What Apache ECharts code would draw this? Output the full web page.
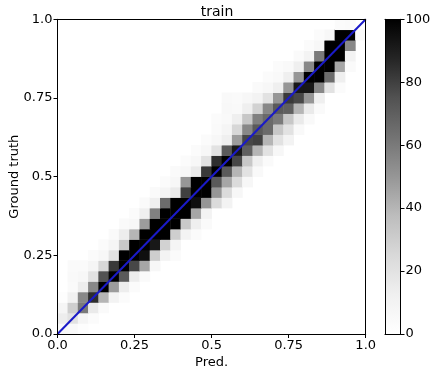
<!DOCTYPE html>
<html>
<head>
<meta charset="utf-8">
<script src="https://cdn.jsdelivr.net/npm/echarts@6/dist/echarts.min.js"></script>
<style>
html,body{margin:0;padding:0;background:#fff;}
#chart{width:434px;height:374px;}
</style>
</head>
<body>
<div id="chart"></div>
<script>
// 30x30 2D histogram counts, rows = ground-truth bins (bottom to top), columns = prediction bins (left to right)
const nBins = 30;
const counts = [
/* j0  */ [6,5,2,0,0,0,0,0,0,0,0,0,0,0,0,0,0,0,0,0,0,0,0,0,0,0,0,0,0,0],
/* j1  */ [14,20,8,3,0,0,0,0,0,0,0,0,0,0,0,0,0,0,0,0,0,0,0,0,0,0,0,0,0,0],
/* j2  */ [8,30,60,16,4,0,0,0,0,0,0,0,0,0,0,0,0,0,0,0,0,0,0,0,0,0,0,0,0,0],
/* j3  */ [2,12,55,85,40,10,3,0,0,0,0,0,0,0,0,0,0,0,0,0,0,0,0,0,0,0,0,0,0,0],
/* j4  */ [0,4,14,55,100,48,14,3,0,0,0,0,0,0,0,0,0,0,0,0,0,0,0,0,0,0,0,0,0,0],
/* j5  */ [0,5,7,20,75,100,72,14,4,0,0,0,0,0,0,0,0,0,0,0,0,0,0,0,0,0,0,0,0,0],
/* j6  */ [0,4,4,8,26,82,100,78,45,7,0,0,0,0,0,0,0,0,0,0,0,0,0,0,0,0,0,0,0,0],
/* j7  */ [0,0,0,3,7,20,100,100,95,30,10,3,0,0,0,0,0,0,0,0,0,0,0,0,0,0,0,0,0,0],
/* j8  */ [0,0,0,0,3,8,32,100,100,92,28,8,0,0,0,0,0,0,0,0,0,0,0,0,0,0,0,0,0,0],
/* j9  */ [0,0,0,0,0,4,14,40,100,100,100,30,10,3,0,0,0,0,0,0,0,0,0,0,0,0,0,0,0,0],
/* j10 */ [0,0,0,0,0,0,4,7,48,100,100,100,32,13,4,0,0,0,0,0,0,0,0,0,0,0,0,0,0,0],
/* j11 */ [0,0,0,0,0,0,0,3,13,58,100,100,100,45,10,0,0,0,0,0,0,0,0,0,0,0,0,0,0,0],
/* j12 */ [0,0,0,0,0,0,0,0,4,13,65,100,100,95,50,24,10,0,0,0,0,0,0,0,0,0,0,0,0,0],
/* j13 */ [0,0,0,0,0,0,0,0,0,4,8,16,80,100,100,50,24,7,0,0,0,0,0,0,0,0,0,0,0,0],
/* j14 */ [0,0,0,0,0,0,0,0,0,0,3,7,50,100,100,72,45,24,7,0,0,0,0,0,0,0,0,0,0,0],
/* j15 */ [0,0,0,0,0,0,0,0,0,0,0,4,7,16,82,100,72,40,20,5,0,0,0,0,0,0,0,0,0,0],
/* j16 */ [0,0,0,0,0,0,0,0,0,0,0,0,3,7,20,85,100,78,33,13,4,0,0,0,0,0,0,0,0,0],
/* j17 */ [0,0,0,0,0,0,0,0,0,0,0,0,0,3,7,20,72,92,70,40,20,7,0,0,0,0,0,0,0,0],
/* j18 */ [0,0,0,0,0,0,0,0,0,0,0,0,0,0,3,7,13,48,78,80,40,20,10,0,0,0,0,0,0,0],
/* j19 */ [0,0,0,0,0,0,0,0,0,0,0,0,0,0,0,4,8,26,55,72,66,33,20,5,0,0,0,0,0,0],
/* j20 */ [0,0,0,0,0,0,0,0,0,0,0,0,0,0,0,3,5,13,33,58,66,60,33,16,5,0,0,0,0,0],
/* j21 */ [0,0,0,0,0,0,0,0,0,0,0,0,0,0,0,0,6,5,13,28,55,72,70,40,16,4,0,0,0,0],
/* j22 */ [0,0,0,0,0,0,0,0,0,0,0,0,0,0,0,0,5,4,7,10,20,50,82,78,50,13,0,0,0,0],
/* j23 */ [0,0,0,0,0,0,0,0,0,0,0,0,0,0,0,0,0,0,0,4,7,13,50,92,92,55,20,3,0,0],
/* j24 */ [0,0,0,0,0,0,0,0,0,0,0,0,0,0,0,0,0,0,0,0,3,5,13,50,100,100,65,13,0,0],
/* j25 */ [0,0,0,0,0,0,0,0,0,0,0,0,0,0,0,0,0,0,0,0,0,3,5,13,55,100,100,45,4,0],
/* j26 */ [0,0,0,0,0,0,0,0,0,0,0,0,0,0,0,0,0,0,0,0,0,0,0,4,10,60,100,100,10,0],
/* j27 */ [0,0,0,0,0,0,0,0,0,0,0,0,0,0,0,0,0,0,0,0,0,0,0,0,3,7,100,100,55,0],
/* j28 */ [0,0,0,0,0,0,0,0,0,0,0,0,0,0,0,0,0,0,0,0,0,0,0,0,0,3,7,100,100,5],
/* j29 */ [0,0,0,0,0,0,0,0,0,0,0,0,0,0,0,0,0,0,0,0,0,0,0,0,0,0,0,3,4,0]
];
const axisTicks = [0, 0.25, 0.5, 0.75, 1.0];
const axisTickLabels = ['0.0', '0.25', '0.5', '0.75', '1.0'];
const colorbarTicks = [0, 20, 40, 60, 80, 100];
const identityLine = [[0, 0], [1, 1]];
const greys = ['#ffffff','#f0f0f0','#d9d9d9','#bdbdbd','#969696','#737373','#525252','#252525','#000000'];

const binLabels = [];
for (let i = 0; i < nBins; i++) binLabels.push(String(i));
const heatData = [];
for (let j = 0; j < nBins; j++) {
  for (let i = 0; i < nBins; i++) {
    const v = counts[j][i];
    if (v > 0) heatData.push([i, j, v]);
  }
}

const FONT = 'DejaVu Sans';
const labelFmt = v => {
  const k = axisTicks.indexOf(Math.round(v * 100) / 100);
  return k >= 0 ? axisTickLabels[k] : '';
};
const lineOnly = (extra) => Object.assign({
  axisLine: {show: true, onZero: false, lineStyle: {color: '#000', width: 1}},
  axisTick: {show: false}, axisLabel: {show: false}, splitLine: {show: false}, z: 10
}, extra);

const chart = echarts.init(document.getElementById('chart'), null, {renderer: 'canvas'});

chart.setOption({
  animation: false,
  backgroundColor: '#fff',
  title: {text: 'train', left: 212, top: 0, textAlign: 'center',
    textStyle: {fontFamily: FONT, fontSize: 14, fontWeight: 'normal', color: '#000'}},
  grid: [
    {left: 57.5, top: 19.3, width: 308.2, height: 314.7, containLabel: false, outerBoundsMode: 'none'},
    {left: 385, top: 19.3, width: 15.5, height: 314.7, containLabel: false, outerBoundsMode: 'none'}
  ],
  visualMap: {show: false, type: 'continuous', min: 0, max: 100, seriesIndex: 0, dimension: 2,
    inRange: {color: greys}},
  xAxis: [
    {type: 'value', gridIndex: 0, position: 'bottom', min: 0, max: 1, interval: 0.25, z: 10,
      name: 'Pred.', nameLocation: 'middle', nameGap: 22, nameMoveOverlap: false,
      nameTextStyle: {fontFamily: FONT, fontSize: 13, color: '#000', verticalAlign: 'top'},
      axisLine: {show: true, onZero: false, lineStyle: {color: '#000', width: 1}},
      axisTick: {show: true, inside: false, length: 4, lineStyle: {color: '#000'}},
      axisLabel: {fontFamily: FONT, fontSize: 13, color: '#000', margin: 5, formatter: labelFmt},
      splitLine: {show: false}},
    {type: 'category', gridIndex: 0, position: 'bottom', data: binLabels, show: false, boundaryGap: true},
    {type: 'category', gridIndex: 1, position: 'bottom', data: ['cb'], show: false},
    lineOnly({type: 'value', gridIndex: 0, position: 'top', min: 0, max: 1}),
    lineOnly({type: 'value', gridIndex: 1, position: 'top', min: 0, max: 1}),
    lineOnly({type: 'value', gridIndex: 1, position: 'bottom', min: 0, max: 1})
  ],
  yAxis: [
    {type: 'value', gridIndex: 0, position: 'left', min: 0, max: 1, interval: 0.25, z: 10,
      name: 'Ground truth', nameLocation: 'middle', nameGap: 36, nameRotate: 90, nameMoveOverlap: false,
      nameTextStyle: {fontFamily: FONT, fontSize: 13, color: '#000'},
      axisLine: {show: true, onZero: false, lineStyle: {color: '#000', width: 1}},
      axisTick: {show: true, inside: false, length: 4, lineStyle: {color: '#000'}},
      axisLabel: {fontFamily: FONT, fontSize: 13, color: '#000', margin: 5, formatter: labelFmt},
      splitLine: {show: false}},
    {type: 'category', gridIndex: 0, position: 'left', data: binLabels, show: false, boundaryGap: true},
    {type: 'value', gridIndex: 1, position: 'right', min: 0, max: 100, interval: 20, z: 10,
      axisLine: {show: true, onZero: false, lineStyle: {color: '#000', width: 1}},
      axisTick: {show: true, inside: false, length: 4, lineStyle: {color: '#000'}},
      axisLabel: {fontFamily: FONT, fontSize: 13, color: '#000', margin: 5},
      splitLine: {show: false}},
    lineOnly({type: 'value', gridIndex: 0, position: 'right', min: 0, max: 1}),
    lineOnly({type: 'value', gridIndex: 1, position: 'left', min: 0, max: 1})
  ],
  series: [
    {type: 'heatmap', xAxisIndex: 1, yAxisIndex: 1, data: heatData, progressive: 0, z: 1,
      itemStyle: {borderWidth: 0}, emphasis: {disabled: true}},
    {type: 'line', xAxisIndex: 0, yAxisIndex: 0, data: identityLine, symbol: 'none',
      lineStyle: {color: '#1a1ac8', width: 2}, z: 5},
    {type: 'bar', xAxisIndex: 2, yAxisIndex: 2, data: [colorbarTicks[colorbarTicks.length - 1]], barWidth: '100%', z: 1,
      itemStyle: {color: {type: 'linear', x: 0, y: 1, x2: 0, y2: 0,
        colorStops: greys.map((c, k) => ({offset: k / (greys.length - 1), color: c}))}}}
  ]
});
</script>
</body>
</html>
